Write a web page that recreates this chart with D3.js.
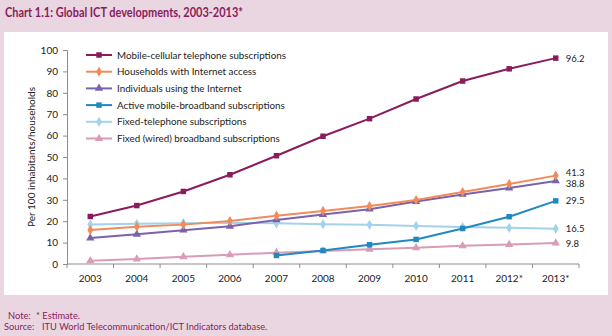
<!DOCTYPE html>
<html>
<head>
<meta charset="utf-8">
<script src="https://cdn.jsdelivr.net/npm/d3@7"></script>
<style>
  body { margin: 0; background: #ead6e1; }
  svg { display: block; font-family: Lato, "Open Sans", sans-serif; }
</style>
</head>
<body>
<div id="chart"></div>
<script>
var svgWidth = 612;
var svgHeight = 336;

var years = ["2003", "2004", "2005", "2006", "2007", "2008", "2009", "2010", "2011", "2012*", "2013*"];
var yTicks = [0, 10, 20, 30, 40, 50, 60, 70, 80, 90, 100];

var seriesNames = [
    "Mobile-cellular telephone subscriptions",
    "Households with Internet access",
    "Individuals using the Internet",
    "Active mobile-broadband subscriptions",
    "Fixed-telephone subscriptions",
    "Fixed (wired) broadband subscriptions"
];

var mobileCellular = [22.2, 27.3, 33.9, 41.7, 50.6, 59.7, 67.9, 77.1, 85.5, 91.2, 96.2];
var householdsInternet = [15.9, 17.4, 18.4, 20.1, 22.6, 24.8, 27.1, 29.9, 33.6, 37.4, 41.3];
var individualsInternet = [12.1, 13.9, 15.8, 17.6, 20.6, 23.1, 25.6, 29.2, 32.5, 35.5, 38.8];
var mobileBroadband = [null, null, null, null, 4.0, 6.3, 9.0, 11.5, 16.6, 22.1, 29.5];
var fixedTelephone = [18.4, 18.8, 19.1, 19.3, 19.0, 18.6, 18.3, 17.8, 17.3, 16.9, 16.5];
var fixedBroadband = [1.5, 2.3, 3.4, 4.3, 5.3, 6.1, 6.9, 7.6, 8.5, 9.1, 9.8];

var endLabels = ["96.2", "41.3", "38.8", "29.5", "16.5", "9.8"];

var colors = ["#8a1b5c", "#f28a5a", "#7b62ac", "#2188c0", "#a2d2ec", "#d89bb8"];
var shapes = [d3.symbolSquare, d3.symbolDiamond, d3.symbolTriangle, d3.symbolSquare, d3.symbolDiamond, d3.symbolTriangle];

var allSeries = [mobileCellular, householdsInternet, individualsInternet, mobileBroadband, fixedTelephone, fixedBroadband];

var margin = { top: 50, right: 33, bottom: 72, left: 67 };
var width = svgWidth - margin.left - margin.right;
var height = svgHeight - margin.top - margin.bottom;

var svg = d3.select("#chart")
    .append("svg")
    .attr("width", svgWidth)
    .attr("height", svgHeight);

// white plot panel
svg.append("rect")
    .attr("x", 4).attr("y", 32)
    .attr("width", 604).attr("height", 263)
    .attr("fill", "#ffffff");

svg.append("text")
    .attr("x", 5).attr("y", 17)
    .attr("font-size", "12.5px")
    .attr("font-weight", "bold")
    .attr("fill", "#8a1b5c")
    .attr("textLength", 238)
    .attr("lengthAdjust", "spacingAndGlyphs")
    .text("Chart 1.1: Global ICT developments, 2003-2013*");

var chartGroup = svg.append("g")
    .attr("transform", `translate(${margin.left}, ${margin.top})`);

var xScale = d3.scaleBand()
    .domain(years)
    .range([0, width]);

var yScale = d3.scaleLinear()
    .domain([0, 100])
    .range([height, 0]);

var xPos = d => xScale(d) + xScale.bandwidth() / 2;

// x axis with ticks between categories
var xAxisG = chartGroup.append("g")
    .attr("transform", `translate(0, ${height})`);
xAxisG.append("line")
    .attr("x1", 0).attr("x2", width)
    .attr("stroke", "#8c8c8c");
xAxisG.selectAll(".tk")
    .data(d3.range(years.length + 1))
    .enter()
    .append("line")
    .attr("x1", i => i * xScale.bandwidth())
    .attr("x2", i => i * xScale.bandwidth())
    .attr("y1", 0).attr("y2", 4)
    .attr("stroke", "#8c8c8c");
xAxisG.selectAll("text")
    .data(years)
    .enter()
    .append("text")
    .attr("x", d => xPos(d))
    .attr("y", 18)
    .attr("text-anchor", "middle")
    .attr("font-size", "10px")
    .attr("fill", "#222")
    .text(d => d);

var leftAxis = d3.axisLeft(yScale).tickValues(yTicks).tickSize(4).tickPadding(5);
var yAxisG = chartGroup.append("g").call(leftAxis);
yAxisG.select(".domain").attr("stroke", "#8c8c8c");
yAxisG.selectAll(".tick line").attr("stroke", "#8c8c8c");
yAxisG.selectAll(".tick text")
    .attr("font-size", "10px")
    .attr("font-family", "Lato, sans-serif")
    .attr("fill", "#222");

chartGroup.append("text")
    .attr("transform", "rotate(-90)")
    .attr("x", -height / 2)
    .attr("y", -32)
    .attr("text-anchor", "middle")
    .attr("font-size", "10px")
    .attr("fill", "#222")
    .text("Per 100 inhabitants/households");

var line = d3.line()
    .defined(d => d != null)
    .x((d, i) => xPos(years[i]))
    .y(d => yScale(d));

// draw back to front so mobile-cellular ends on top
d3.range(allSeries.length).reverse().forEach(function(s) {
    var values = allSeries[s];
    chartGroup.append("path")
        .datum(values)
        .attr("fill", "none")
        .attr("stroke", colors[s])
        .attr("stroke-width", 2)
        .attr("d", line);

    chartGroup.selectAll(".m" + s)
        .data(values.map((v, i) => ({ v: v, year: years[i] })).filter(d => d.v != null))
        .enter()
        .append("path")
        .attr("transform", d => `translate(${xPos(d.year)}, ${yScale(d.v)})`)
        .attr("d", d3.symbol().type(shapes[s]).size(30))
        .attr("fill", colors[s]);

    var last = values[values.length - 1];
    chartGroup.append("text")
        .attr("x", xPos(years[years.length - 1]) + 10)
        .attr("y", yScale(last) + 3.5 + (s === 1 ? -3.5 : s === 2 ? 2.5 : 0))
        .attr("font-size", "9.5px")
        .attr("fill", "#222")
        .text(endLabels[s]);
});

// legend
var legend = svg.append("g").attr("transform", "translate(86, 55)");
seriesNames.forEach(function(name, s) {
    var row = legend.append("g").attr("transform", `translate(0, ${s * 16.7})`);
    row.append("line")
        .attr("x1", 0).attr("x2", 26)
        .attr("stroke", colors[s]).attr("stroke-width", 2);
    row.append("path")
        .attr("transform", "translate(13, 0)")
        .attr("d", d3.symbol().type(shapes[s]).size(30))
        .attr("fill", colors[s]);
    row.append("text")
        .attr("x", 31).attr("y", 3.5)
        .attr("font-size", "9.8px")
        .attr("fill", "#222")
        .text(name);
});

// footnotes
var notes = svg.append("g").attr("font-size", "9.3px").attr("fill", "#8a1b5c");
notes.append("text").attr("x", 8).attr("y", 319).text("Note:");
notes.append("text").attr("x", 36).attr("y", 319).text("* Estimate.");
notes.append("text").attr("x", 4).attr("y", 330).text("Source:");
notes.append("text").attr("x", 42).attr("y", 330).text("ITU World Telecommunication/ICT Indicators database.");
</script>
</body>
</html>
